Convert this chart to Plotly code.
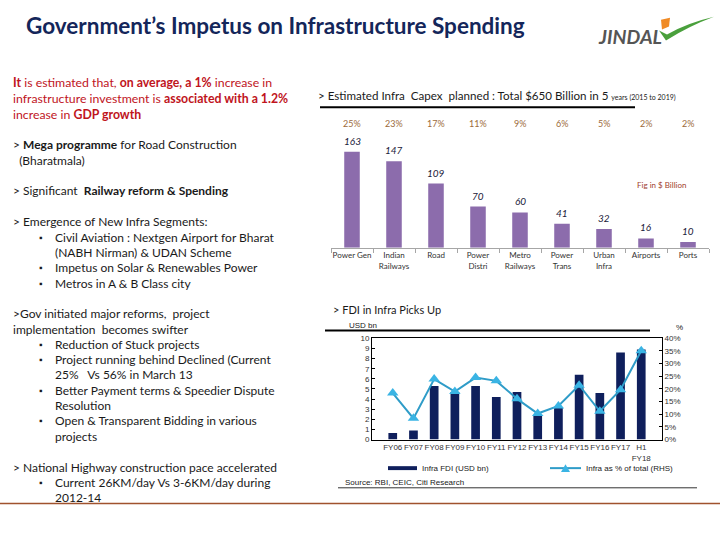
import plotly.graph_objects as go

W, H = 720, 540

def px(x):
    return x / W

def py(y):
    return 1 - y / H

# ---------------- data ----------------
capex_cats = ["Power Gen", "Indian<br>Railways", "Road", "Power<br>Distri", "Metro<br>Railways",
              "Power<br>Trans", "Urban<br>Infra", "Airports", "Ports"]
capex_vals = [163, 147, 109, 70, 60, 41, 32, 16, 10]
capex_share = ["25%", "23%", "17%", "11%", "9%", "6%", "5%", "2%", "2%"]

fdi_cats = ["FY06", "FY07", "FY08", "FY09", "FY10", "FY11", "FY12", "FY13", "FY14",
            "FY15", "FY16", "FY17", "H1<br>FY18"]
fdi_vals = [0.65, 0.9, 5.3, 4.7, 5.3, 4.2, 4.7, 2.4, 3.2, 6.4, 4.6, 8.6, 8.9]
fdi_share = [0.184, 0.084, 0.239, 0.19, 0.245, 0.232, 0.161, 0.103, 0.133, 0.215, 0.112, 0.197, 0.351]

BODY = "Lato, 'Open Sans', sans-serif"
ARIAL = "'Liberation Sans', Arial, sans-serif"

fig = go.Figure()

# Capex bars
fig.add_trace(go.Bar(x=capex_cats, y=capex_vals, xaxis="x", yaxis="y",
                     marker=dict(color="#8c6cac", line=dict(width=0)), width=0.37,
                     showlegend=False, hoverinfo="skip"))

# FDI bars
fig.add_trace(go.Bar(x=fdi_cats, y=fdi_vals, xaxis="x2", yaxis="y2",
                     marker=dict(color="#0f1f5c", line=dict(width=0)), width=0.42,
                     name="Infra FDI (USD bn)", showlegend=False))
# FDI share line
fig.add_trace(go.Scatter(x=fdi_cats, y=fdi_share, xaxis="x2", yaxis="y3", mode="lines+markers",
                         line=dict(color="#2f9cc8", width=2),
                         marker=dict(symbol="triangle-up", size=10, color="#3ab4e4"),
                         name="Infra as % of total (RHS)", showlegend=False))

cap_top = 248 - 180 * 0.6
fig.update_layout(
    width=W, height=H, margin=dict(l=0, r=0, t=0, b=0),
    paper_bgcolor="white", plot_bgcolor="rgba(0,0,0,0)",
    bargap=0.5,
    xaxis=dict(domain=[px(331), px(709)], anchor="y", showline=True, linecolor="#a6a6a6", linewidth=1,
               ticks="outside", tickson="boundaries", ticklen=4, tickcolor="#a6a6a6",
               tickfont=dict(family=BODY, size=8, color="#333333"), tickangle=0, showgrid=False,
               fixedrange=True),
    yaxis=dict(domain=[py(248), py(cap_top)], range=[0, 180], visible=False, showgrid=False),
    xaxis2=dict(domain=[px(372), px(662)], anchor="y2", showline=True, linecolor="black", linewidth=1,
                mirror=True, ticks="", tickfont=dict(family=ARIAL, size=8, color="#333333"),
                tickangle=0, showgrid=False),
    yaxis2=dict(domain=[py(443), py(340)], range=[0, 10], dtick=1, anchor="x2", showline=True,
                linecolor="black", linewidth=1, ticks="inside", ticklen=3, tickcolor="black",
                tickfont=dict(family=ARIAL, size=8, color="#333333"), showgrid=False, zeroline=False),
    yaxis3=dict(range=[0, 0.40], dtick=0.05, tickformat=".0%", overlaying="y2", side="right",
                anchor="x2", showline=True, linecolor="black", linewidth=1, ticks="inside", ticklen=3,
                tickcolor="black", tickfont=dict(family=ARIAL, size=8, color="#333333"),
                showgrid=False, zeroline=False),
)

ann = []

def txt(x, y, text, size=12, color="#1a1a1a", family=BODY, anchor="left", **kw):
    ann.append(dict(x=px(x), y=py(y), xref="paper", yref="paper", text=text, showarrow=False,
                    xanchor=anchor, yanchor="middle", font=dict(size=size, color=color, family=family), **kw))

# Title
txt(24, 22, "<b>Government\u2019s Impetus on Infrastructure Spending</b>", size=22.5, color="#14265a")

# Logo
txt(630, 33, "<b><i>JINDAL</i></b>", size=19.5, color="#555555", anchor="center")

# Left column text
RED = "#c0141c"
txt(11, 80, "<b>It</b> is estimated that, <b>on average, a 1%</b> increase in", color=RED, size=12.3)
txt(11, 96, "infrastructure investment is <b>associated with a 1.2%</b>", color=RED, size=12.3)
txt(11, 112, "increase in <b>GDP growth</b>", color=RED, size=12.3)

txt(11, 143, "> <b>Mega programme</b> for Road Construction")
txt(11, 159, "  (Bharatmala)")
txt(11, 190, "> Significant  <b>Railway reform & Spending</b>")
txt(11, 221, "> Emergence of New Infra Segments:")
bul1 = [(237, "Civil Aviation : Nextgen Airport for Bharat", True), (253, "(NABH Nirman) & UDAN Scheme", False),
        (268, "Impetus on Solar & Renewables Power", True), (284, "Metros in A & B Class city", True)]
for y, t, b in bul1:
    if b:
        txt(37, y, "\u25aa", size=9)
    txt(53, y, t)

txt(11, 315, ">Gov initiated major reforms,  project")
txt(11, 331, "implementation  becomes swifter")
bul2 = [(346, "Reduction of Stuck projects", True), (362, "Project running behind Declined (Current", True),
        (377, "25%   Vs 56% in March 13", False), (393, "Better Payment terms & Speedier Dispute", True),
        (408, "Resolution", False), (424, "Open & Transparent Bidding in various", True),
        (440, "projects", False)]
for y, t, b in bul2:
    if b:
        txt(37, y, "\u25aa", size=9)
    txt(53, y, t)

txt(11, 471, "> National Highway construction pace accelerated")
txt(37, 487, "\u25aa", size=9)
txt(53, 487, "Current 26KM/day Vs 3-6KM/day during")
txt(53, 502, "2012-14")

# Capex chart titles
txt(316, 93, "> Estimated Infra  Capex  planned : Total $650 Billion in 5 "
              "<span style='font-size:7px'>years (2015 to 2019)</span>", size=11.6)
txt(661, 184, "Fig in $ Billion", size=8, color="#a0422d", anchor="center")

for c, v, s in zip(capex_cats, capex_vals, capex_share):
    ann.append(dict(x=c, y=v, xref="x", yref="y", text="<i>%d</i>" % v, showarrow=False,
                    yanchor="bottom", yshift=3, font=dict(size=10, color="#1a1a3a", family=BODY)))
    ann.append(dict(x=c, y=py(122), xref="x", yref="paper", text=s, showarrow=False,
                    yanchor="middle", font=dict(size=9, color="#9c6b3a", family=BODY)))

# FDI chart titles
txt(331, 311, "> FDI in Infra Picks Up", size=11)
txt(347, 327, "USD bn", size=8, family=ARIAL)
txt(679, 329, "%", size=8, family=ARIAL, anchor="center")
txt(420, 472, "Infra FDI (USD bn)", size=8, family=ARIAL)
txt(584, 472, "Infra as % of total (RHS)", size=8, family=ARIAL)
txt(343, 487, "Source: RBI, CEIC, Citi Research", size=8, family=ARIAL)

fig.update_layout(annotations=ann)

shapes = [
    # capex underline
    dict(type="line", xref="paper", yref="paper", x0=px(320), x1=px(635), y0=py(105), y1=py(105),
         line=dict(color="black", width=2)),
    # fdi underline
    dict(type="line", xref="paper", yref="paper", x0=px(325), x1=px(650), y0=py(332), y1=py(332),
         line=dict(color="black", width=2)),
    # source line
    dict(type="line", xref="paper", yref="paper", x0=px(338), x1=px(697), y0=py(492), y1=py(492),
         line=dict(color="#333333", width=1)),
    # legend swatches
    dict(type="rect", xref="paper", yref="paper", x0=px(388), x1=px(417), y0=py(474), y1=py(470),
         fillcolor="#0f1f5c", line=dict(width=0)),
    dict(type="line", xref="paper", yref="paper", x0=px(550), x1=px(581), y0=py(472), y1=py(472),
         line=dict(color="#2f9cc8", width=2)),
    # bottom brown rule
    dict(type="line", xref="paper", yref="paper", x0=0, x1=1, y0=py(508), y1=py(508),
         line=dict(color="#a0522d", width=1.5)),
    # logo swoosh
    dict(type="path", xref="paper", yref="paper",
         path="M %f %f L %f %f Q %f %f %f %f Q %f %f %f %f Z" % (
             px(659), py(27), px(666), py(37), px(690), py(22), px(714), py(13),
             px(688), py(19), px(667), py(31)),
         fillcolor="#4aa03c", line=dict(width=0)),
    dict(type="path", xref="paper", yref="paper",
         path="M %f %f L %f %f L %f %f L %f %f Z" % (
             px(661), py(16), px(670), py(14), px(669), py(23), px(662), py(26)),
         fillcolor="#f08a24", line=dict(width=0)),
    # legend triangle
    dict(type="path", xref="paper", yref="paper",
         path="M %f %f L %f %f L %f %f Z" % (px(561), py(476), px(570), py(476), px(565.5), py(468)),
         fillcolor="#3ab4e4", line=dict(width=0)),
]
fig.update_layout(shapes=shapes)

fig.write_html("out.html", config={"displayModeBar": False},
               post_script="document.body.style.margin='0';")
